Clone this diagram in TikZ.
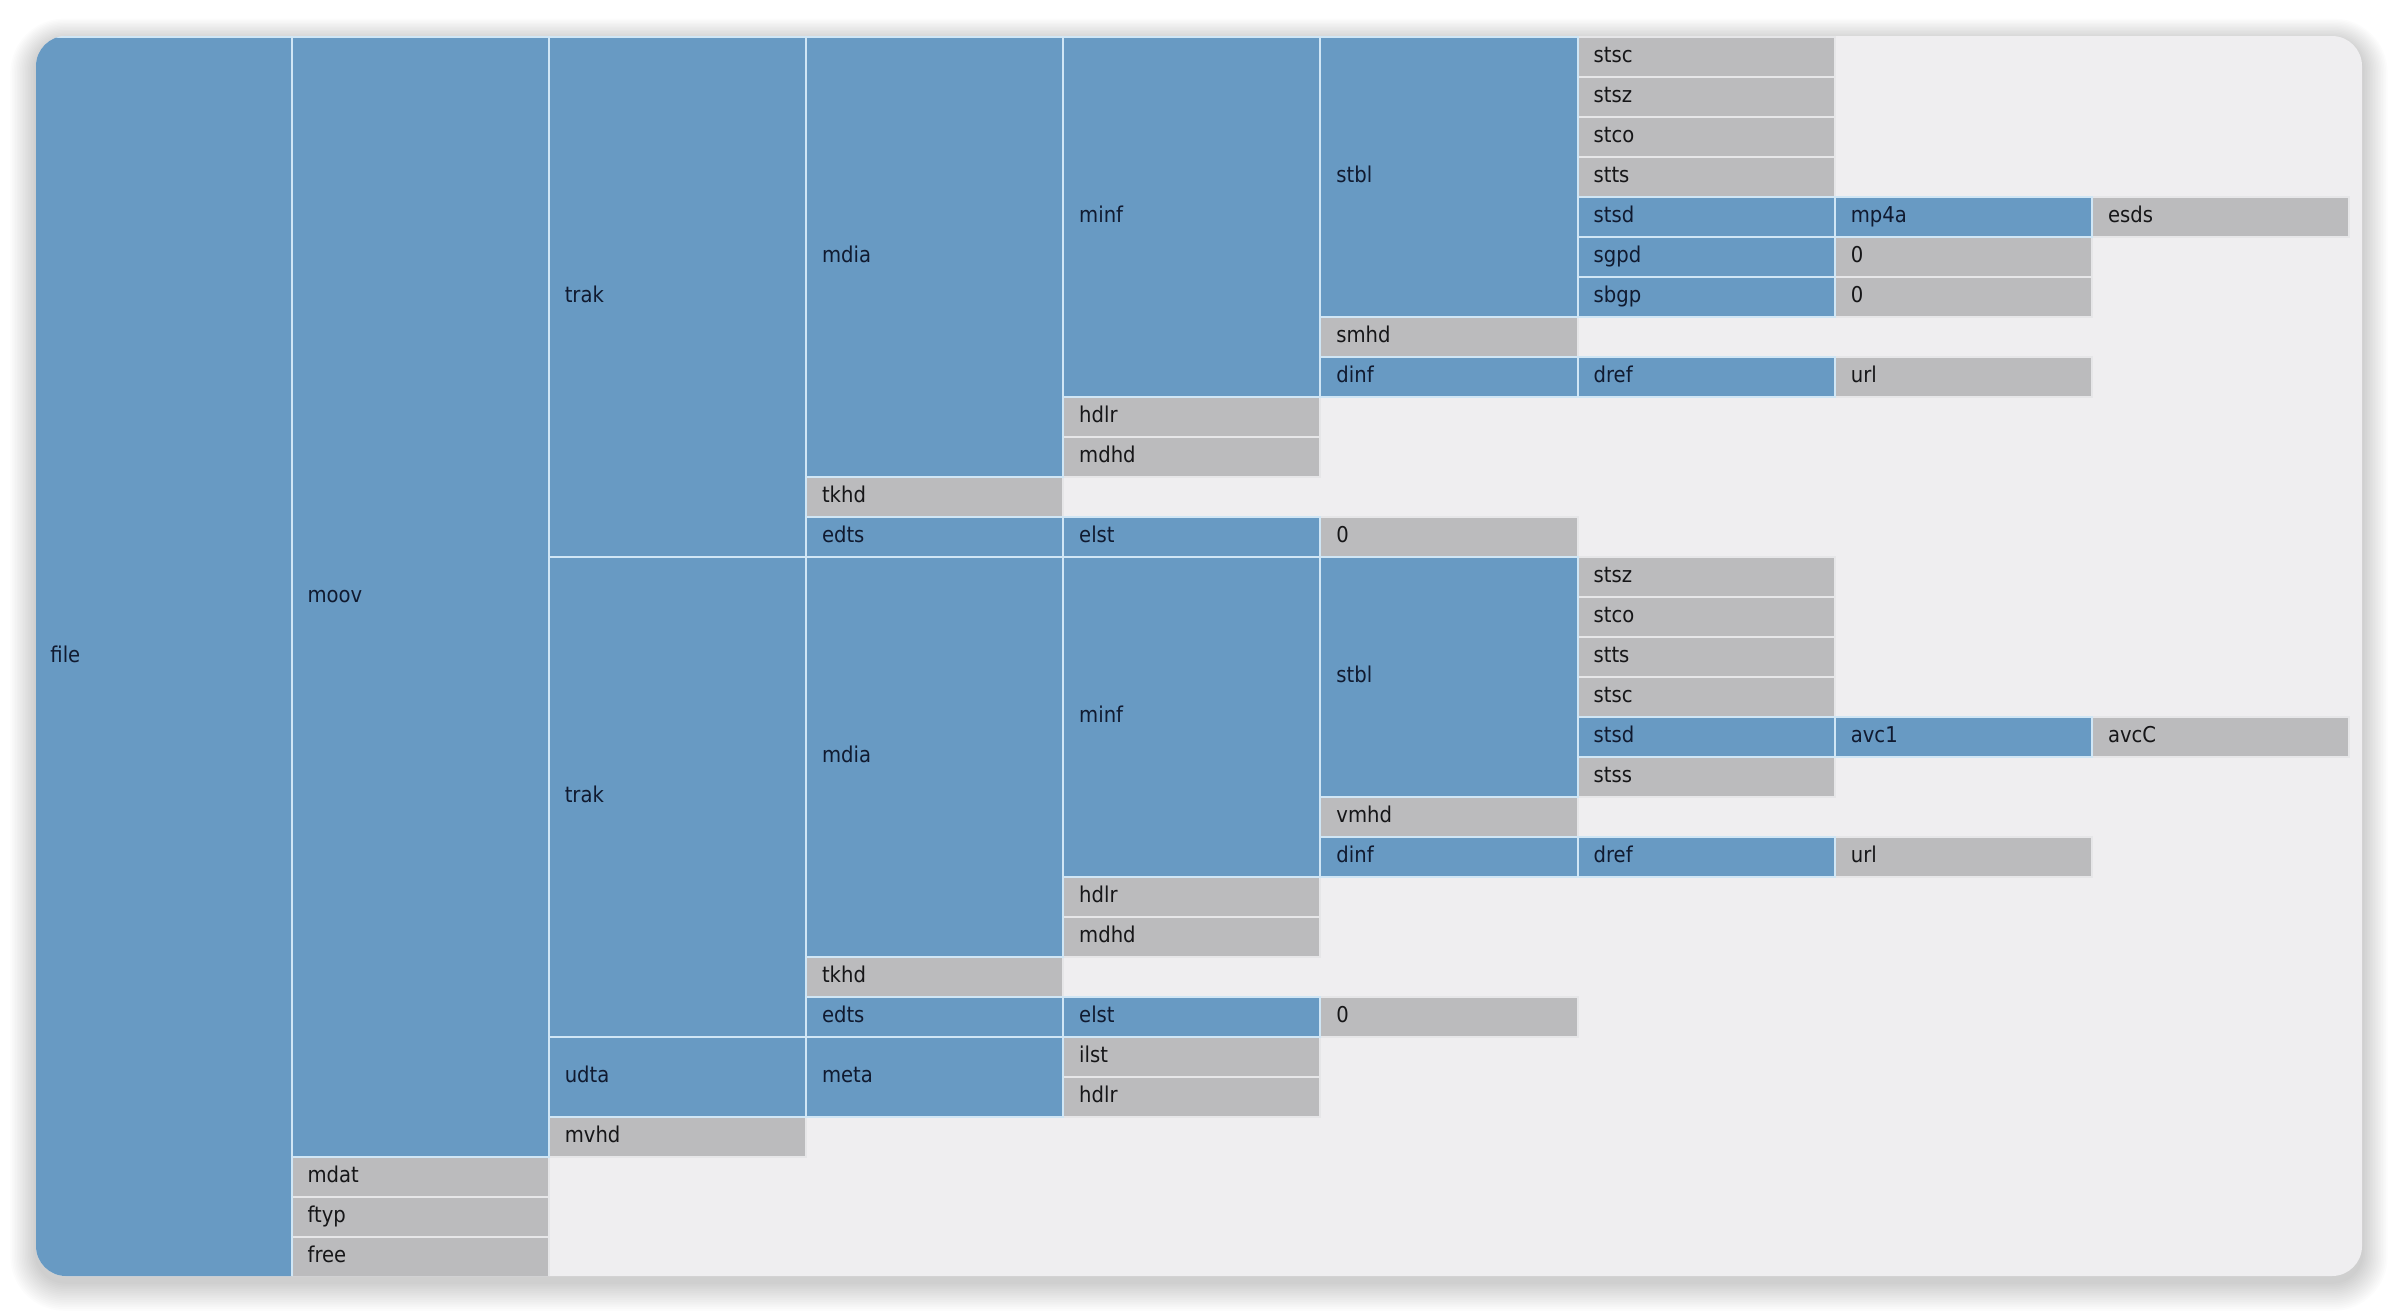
\documentclass[tikz,border=0pt]{standalone}
\usepackage{fontspec}
\setmainfont{DejaVu Sans}[FakeStretch=0.9]
\definecolor{cellblue}{RGB}{104,154,195}
\definecolor{cellgray}{RGB}{187,187,189}
\definecolor{cardbg}{RGB}{239,238,240}
\definecolor{blueline}{RGB}{208,230,245}
\definecolor{grayline}{RGB}{230,230,232}
\definecolor{bluetext}{RGB}{16,26,48}
\definecolor{graytext}{RGB}{22,22,24}
\newcommand\boxcell[6]{%
  \pgfmathsetmacro\cx{33.4+257.2*#3}%
  \pgfmathsetmacro\cy{36+40*#4}%
  \pgfmathsetmacro\ch{20*#5}%
  \node[#2, minimum height=\ch pt] (#1) at (\cx,\cy) {#6};%
}
\tikzset{
  cellbase/.style={rectangle, anchor=north west, inner xsep=8pt, inner ysep=0pt,
    text width=112.6pt, align=left, line width=1pt,
    text height=8pt, text depth=2.7pt,
    font=\fontsize{10.9pt}{13pt}\selectfont},
  bluecell/.style={cellbase, fill=cellblue, draw=blueline, text=bluetext},
  graycell/.style={cellbase, fill=cellgray, draw=grayline, text=graytext}
}
\begin{document}
\begin{tikzpicture}[x=0.5pt,y=-0.5pt]
\useasboundingbox (0,0) rectangle (2398,1312);
\fill[white] (0,0) rectangle (2398,1312);
% soft shadow
\foreach \i in {1,...,16}{
  \pgfmathsetmacro\rr{15+\i*0.75}
  \fill[black, opacity=0.011, rounded corners=\rr pt]
    ({36-\i*1.6},{36-\i*1.4+5}) rectangle ({2362+\i*1.6},{1276+\i*1.8+6});
}
% card
\fill[cardbg, rounded corners=15pt] (36,36) rectangle (2362,1276);
\begin{scope}
\clip[rounded corners=15pt] (36,36) rectangle (2362,1276);
% gray cells
\boxcell{mdat}{graycell}{1}{28}{1}{mdat}
\boxcell{ftyp}{graycell}{1}{29}{1}{ftyp}
\boxcell{free}{graycell}{1}{30}{1}{free}
\boxcell{mvhd}{graycell}{2}{27}{1}{mvhd}
\boxcell{tkhdA}{graycell}{3}{11}{1}{tkhd}
\boxcell{tkhdB}{graycell}{3}{23}{1}{tkhd}
\boxcell{hdlrA}{graycell}{4}{9}{1}{hdlr}
\boxcell{mdhdA}{graycell}{4}{10}{1}{mdhd}
\boxcell{hdlrB}{graycell}{4}{21}{1}{hdlr}
\boxcell{mdhdB}{graycell}{4}{22}{1}{mdhd}
\boxcell{ilst}{graycell}{4}{25}{1}{ilst}
\boxcell{hdlrC}{graycell}{4}{26}{1}{hdlr}
\boxcell{smhd}{graycell}{5}{7}{1}{smhd}
\boxcell{zeroA}{graycell}{5}{12}{1}{0}
\boxcell{vmhd}{graycell}{5}{19}{1}{vmhd}
\boxcell{zeroB}{graycell}{5}{24}{1}{0}
\boxcell{stscA}{graycell}{6}{0}{1}{stsc}
\boxcell{stszA}{graycell}{6}{1}{1}{stsz}
\boxcell{stcoA}{graycell}{6}{2}{1}{stco}
\boxcell{sttsA}{graycell}{6}{3}{1}{stts}
\boxcell{stszB}{graycell}{6}{13}{1}{stsz}
\boxcell{stcoB}{graycell}{6}{14}{1}{stco}
\boxcell{sttsB}{graycell}{6}{15}{1}{stts}
\boxcell{stscB}{graycell}{6}{16}{1}{stsc}
\boxcell{stss}{graycell}{6}{18}{1}{stss}
\boxcell{zeroC}{graycell}{7}{5}{1}{0}
\boxcell{zeroD}{graycell}{7}{6}{1}{0}
\boxcell{urlA}{graycell}{7}{8}{1}{url}
\boxcell{urlB}{graycell}{7}{20}{1}{url}
\boxcell{esds}{graycell}{8}{4}{1}{esds}
\boxcell{avcC}{graycell}{8}{17}{1}{avcC}
% blue cells
\boxcell{file}{bluecell}{0}{0}{31}{file}
\boxcell{moov}{bluecell}{1}{0}{28}{moov}
\boxcell{trakA}{bluecell}{2}{0}{13}{trak}
\boxcell{trakB}{bluecell}{2}{13}{12}{trak}
\boxcell{udta}{bluecell}{2}{25}{2}{udta}
\boxcell{mdiaA}{bluecell}{3}{0}{11}{mdia}
\boxcell{edtsA}{bluecell}{3}{12}{1}{edts}
\boxcell{mdiaB}{bluecell}{3}{13}{10}{mdia}
\boxcell{edtsB}{bluecell}{3}{24}{1}{edts}
\boxcell{meta}{bluecell}{3}{25}{2}{meta}
\boxcell{minfA}{bluecell}{4}{0}{9}{minf}
\boxcell{elstA}{bluecell}{4}{12}{1}{elst}
\boxcell{minfB}{bluecell}{4}{13}{8}{minf}
\boxcell{elstB}{bluecell}{4}{24}{1}{elst}
\boxcell{stblA}{bluecell}{5}{0}{7}{stbl}
\boxcell{dinfA}{bluecell}{5}{8}{1}{dinf}
\boxcell{stblB}{bluecell}{5}{13}{6}{stbl}
\boxcell{dinfB}{bluecell}{5}{20}{1}{dinf}
\boxcell{stsdA}{bluecell}{6}{4}{1}{stsd}
\boxcell{sgpd}{bluecell}{6}{5}{1}{sgpd}
\boxcell{sbgp}{bluecell}{6}{6}{1}{sbgp}
\boxcell{drefA}{bluecell}{6}{8}{1}{dref}
\boxcell{stsdB}{bluecell}{6}{17}{1}{stsd}
\boxcell{drefB}{bluecell}{6}{20}{1}{dref}
\boxcell{mp4a}{bluecell}{7}{4}{1}{mp4a}
\boxcell{avc1}{bluecell}{7}{17}{1}{avc1}
\end{scope}
\end{tikzpicture}
\end{document}
